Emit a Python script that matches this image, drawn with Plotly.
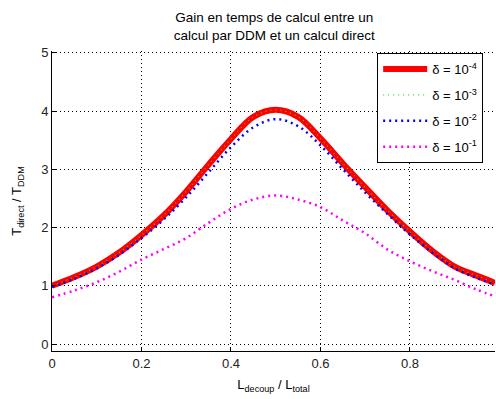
import plotly.graph_objects as go

x_vals = [0.0, 0.05, 0.1, 0.15, 0.2, 0.25, 0.3, 0.35, 0.4, 0.45, 0.5,
          0.55, 0.6, 0.65, 0.7, 0.75, 0.8, 0.85, 0.9, 0.95, 0.99]
gain_1e4 = [1.0, 1.15, 1.33, 1.57, 1.87, 2.21, 2.62, 3.08, 3.52, 3.9, 4.02,
            3.9, 3.53, 3.1, 2.69, 2.29, 1.93, 1.6, 1.33, 1.17, 1.05]
gain_1e3 = [1.0, 1.15, 1.33, 1.57, 1.87, 2.21, 2.62, 3.08, 3.52, 3.9, 4.02,
            3.9, 3.53, 3.1, 2.69, 2.29, 1.93, 1.6, 1.33, 1.17, 1.05]
gain_1e2 = [0.98, 1.12, 1.3, 1.53, 1.82, 2.14, 2.52, 2.95, 3.38, 3.72, 3.86,
            3.74, 3.41, 3.0, 2.6, 2.23, 1.88, 1.57, 1.3, 1.13, 1.02]
gain_1e1 = [0.8, 0.92, 1.06, 1.24, 1.45, 1.63, 1.82, 2.08, 2.32, 2.48, 2.55,
            2.48, 2.35, 2.12, 1.9, 1.62, 1.42, 1.25, 1.1, 0.93, 0.82]
labels = ["δ = 10<sup>-4</sup>", "δ = 10<sup>-3</sup>",
          "δ = 10<sup>-2</sup>", "δ = 10<sup>-1</sup>"]
x_ticks = [0, 0.2, 0.4, 0.6, 0.8]
x_tick_text = ["0", "0.2", "0.4", "0.6", "0.8"]
y_ticks = [0, 1, 2, 3, 4, 5]

fig = go.Figure()
fig.add_trace(go.Scatter(x=x_vals, y=gain_1e4, mode="lines", name=labels[0], legendgroup="a",
                         line=dict(color="#ff0000", width=6, shape="spline")))
fig.add_trace(go.Scatter(x=x_vals, y=gain_1e3, mode="lines", name=labels[1], legendgroup="b",
                         line=dict(color="#22dd22", width=1.2, dash="1px,4px", shape="spline")))
fig.add_trace(go.Scatter(x=x_vals, y=gain_1e2, mode="lines", name=labels[2], legendgroup="c",
                         line=dict(color="#0000ff", width=2.5, dash="2px,4px", shape="spline")))
fig.add_trace(go.Scatter(x=x_vals, y=gain_1e1, mode="lines", name=labels[3], legendgroup="d",
                         line=dict(color="#ff00ff", width=2.5, dash="2px,4px", shape="spline")))

font_family = "Liberation Sans, Arial, sans-serif"
fig.update_layout(
    width=496, height=399,
    margin=dict(l=52, r=1, t=51, b=48, autoexpand=False),
    paper_bgcolor="white", plot_bgcolor="white",
    font=dict(family=font_family, size=13, color="#000000"),
    title=dict(text="Gain en temps de calcul entre un<br>calcul par DDM et un calcul direct",
               x=0.553, xanchor="center", y=1 - 22 / 399, yanchor="middle",
               yref="container", font=dict(size=13.5, color="#000000")),
    showlegend=True,
    legend=dict(x=0.734, y=0.993, xanchor="left", yanchor="top",
                bgcolor="white", bordercolor="#000000", borderwidth=1,
                font=dict(size=13, color="#000000"), tracegroupgap=6,
                traceorder="grouped", itemwidth=44),
    xaxis=dict(range=[0, 0.99], tickvals=x_ticks, ticktext=x_tick_text,
               showgrid=True, gridcolor="#000000", griddash="1px,3px", gridwidth=1,
               zeroline=False, showline=True, linecolor="#000000", linewidth=1,
               ticks="inside", ticklen=4, tickcolor="#000000", automargin=False,
               tickfont=dict(size=13, color="#222222"),
               title=dict(text="L<sub>decoup</sub> / L<sub>total</sub>", standoff=10,
                          font=dict(size=13))),
    yaxis=dict(range=[-0.12, 5.03], tickvals=y_ticks,
               showgrid=True, gridcolor="#000000", griddash="1px,3px", gridwidth=1,
               zeroline=False, showline=True, linecolor="#000000", linewidth=1,
               ticks="inside", ticklen=4, tickcolor="#000000", automargin=False,
               tickfont=dict(size=13, color="#222222"),
               title=dict(text="T<sub>direct</sub> / T<sub>DDM</sub>", standoff=16,
                          font=dict(size=13))),
)

fig.write_html("out.html", config={"displayModeBar": False},
               post_script="document.body.style.margin='0px';")
